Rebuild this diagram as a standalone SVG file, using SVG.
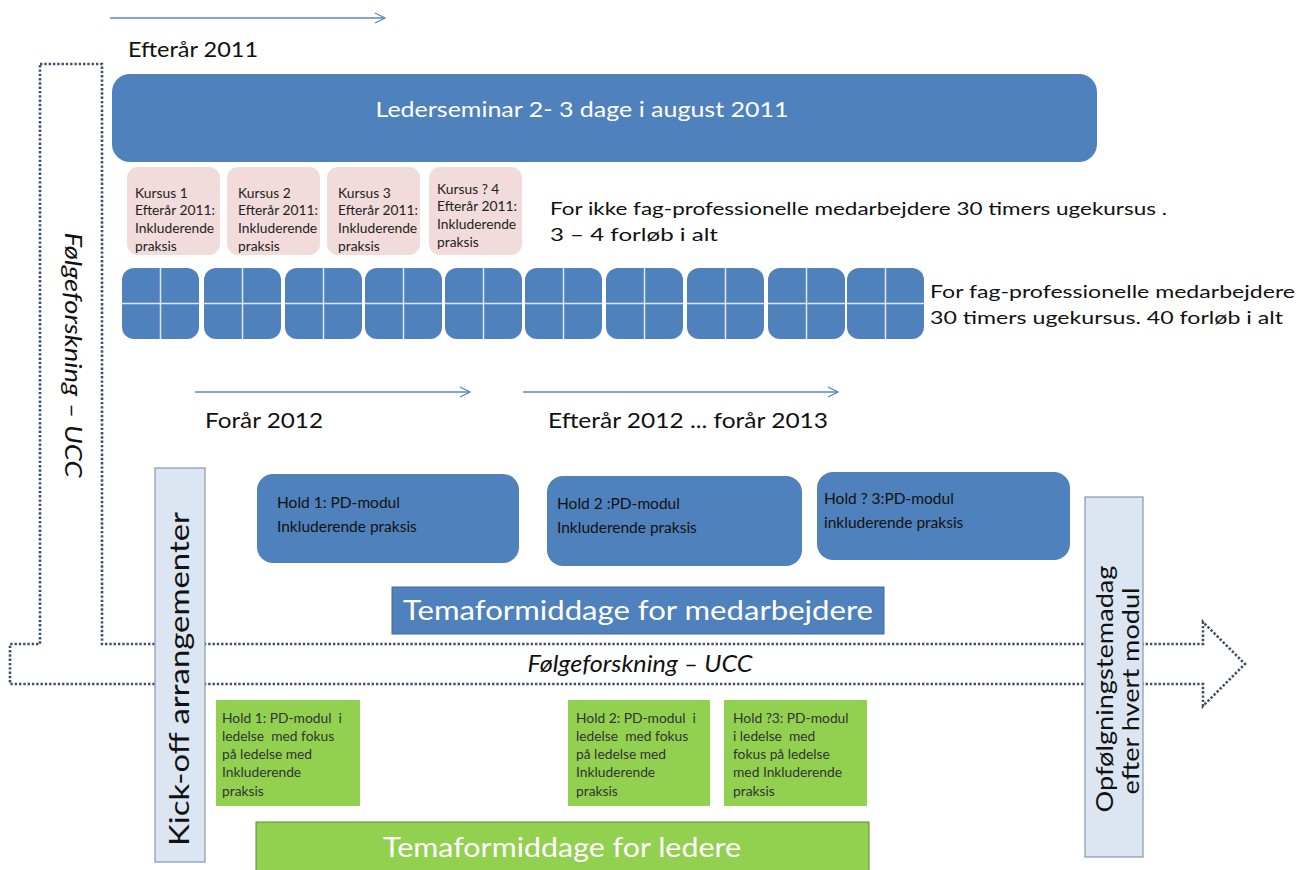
<svg xmlns="http://www.w3.org/2000/svg" width="1307" height="870" viewBox="0 0 1307 870">
<defs>
<marker id="open" viewBox="0 0 12 12" refX="11" refY="6" markerWidth="12" markerHeight="12" markerUnits="userSpaceOnUse" orient="auto">
<path d="M1,1 L11,6 L1,11" fill="none" stroke="#5b87bd" stroke-width="1.2"/>
</marker>
</defs>
<style>
text{font-family:Lato,"Liberation Sans",Arial,sans-serif;fill:#111}
.blue{fill:#4f81bd}
.pink{fill:#f2dcdb}
.green{fill:#92d050}
.bar{fill:#dce6f2;stroke:#8797b0;stroke-width:1.2}
.tl{stroke:#5b87bd;stroke-width:1.3;fill:none}
.dot{fill:none;stroke:#3e5072;stroke-width:2.6;stroke-dasharray:2.4 1.9}
.w{fill:#fff}
.sm{font-size:13.8px;fill:#222}
.gs{font-size:13.8px;fill:#333;white-space:pre}
.hb{font-size:15.5px;fill:#111}
.grid{stroke:#dfe8f3;stroke-width:1.5}
</style>

<g id="research-frame">
<path class="dot" d="M40,64 L102,64 L102,644 L1203,644 L1203,622 L1245,664 L1203,706 L1203,684 L10,684 L10,644 L40,644 Z"/>
<text x="72" y="355" font-size="23" font-style="italic" text-anchor="middle" transform="rotate(90 72 355)" dy="7" textLength="245" lengthAdjust="spacingAndGlyphs">Følgeforskning – UCC</text>
<text x="640" y="672" font-size="23" font-style="italic" text-anchor="middle" textLength="225" lengthAdjust="spacingAndGlyphs">Følgeforskning – UCC</text>
</g>

<g id="connectors">
<line class="tl" x1="110" y1="18" x2="385" y2="18" marker-end="url(#open)"/>
<line class="tl" x1="195" y1="392" x2="470" y2="392" marker-end="url(#open)"/>
<line class="tl" x1="523" y1="392" x2="838" y2="392" marker-end="url(#open)"/>
</g>

<g id="labels">
<text x="128" y="57" font-size="21" textLength="130" lengthAdjust="spacingAndGlyphs">Efterår 2011</text>
<text x="205" y="428" font-size="21" textLength="118" lengthAdjust="spacingAndGlyphs">Forår 2012</text>
<text x="548" y="428" font-size="21" textLength="280" lengthAdjust="spacingAndGlyphs">Efterår 2012 ... forår 2013</text>
<text x="550" y="215" font-size="18" textLength="617" lengthAdjust="spacingAndGlyphs">For ikke fag-professionelle medarbejdere 30 timers ugekursus .</text>
<text x="550" y="241" font-size="18" textLength="168" lengthAdjust="spacingAndGlyphs">3 – 4 forløb i alt</text>
<text x="930" y="298" font-size="18" textLength="365" lengthAdjust="spacingAndGlyphs">For fag-professionelle medarbejdere</text>
<text x="930" y="324" font-size="18" textLength="353" lengthAdjust="spacingAndGlyphs">30 timers ugekursus. 40 forløb i alt</text>
</g>

<g id="lederseminar">
<rect class="blue" x="112" y="74" width="985" height="88" rx="18"/>
<text class="w" x="582" y="117" font-size="22" text-anchor="middle" textLength="413" lengthAdjust="spacingAndGlyphs">Lederseminar 2- 3 dage i august 2011</text>
</g>

<g id="kursus1">
<rect class="pink" x="127" y="167" width="93" height="88" rx="11"/>
<text class="sm" x="135"><tspan x="135" y="198">Kursus 1</tspan><tspan x="135" y="215">Efterår 2011:</tspan><tspan x="135" y="233">Inkluderende</tspan><tspan x="135" y="251">praksis</tspan></text>
</g>
<g id="kursus2">
<rect class="pink" x="227" y="167" width="93" height="88" rx="11"/>
<text class="sm" x="238"><tspan x="238" y="198">Kursus 2</tspan><tspan x="238" y="215">Efterår 2011:</tspan><tspan x="238" y="233">Inkluderende</tspan><tspan x="238" y="251">praksis</tspan></text>
</g>
<g id="kursus3">
<rect class="pink" x="327" y="167" width="93" height="88" rx="11"/>
<text class="sm" x="338"><tspan x="338" y="198">Kursus 3</tspan><tspan x="338" y="215">Efterår 2011:</tspan><tspan x="338" y="233">Inkluderende</tspan><tspan x="338" y="251">praksis</tspan></text>
</g>
<g id="kursus4">
<rect class="pink" x="429" y="167" width="93" height="88" rx="11"/>
<text class="sm" x="437"><tspan x="437" y="194">Kursus ? 4</tspan><tspan x="437" y="211">Efterår 2011:</tspan><tspan x="437" y="229">Inkluderende</tspan><tspan x="437" y="247">praksis</tspan></text>
</g>

<g id="fag-grid">
<rect class="blue" x="122" y="268" width="77" height="71" rx="12"/>
<rect class="blue" x="204" y="268" width="77" height="71" rx="12"/>
<rect class="blue" x="285" y="268" width="77" height="71" rx="12"/>
<rect class="blue" x="365" y="268" width="77" height="71" rx="12"/>
<rect class="blue" x="445" y="268" width="77" height="71" rx="12"/>
<rect class="blue" x="525" y="268" width="77" height="71" rx="12"/>
<rect class="blue" x="606" y="268" width="77" height="71" rx="12"/>
<rect class="blue" x="687" y="268" width="77" height="71" rx="12"/>
<rect class="blue" x="768" y="268" width="77" height="71" rx="12"/>
<rect class="blue" x="847" y="268" width="77" height="71" rx="12"/>
<path class="grid" d="M122,303.5 H199 M204,303.5 H281 M285,303.5 H362 M365,303.5 H442 M445,303.5 H522 M525,303.5 H602 M606,303.5 H683 M687,303.5 H764 M768,303.5 H845 M847,303.5 H924 M160.5,268 V339 M242.5,268 V339 M323.5,268 V339 M403.5,268 V339 M483.5,268 V339 M563.5,268 V339 M644.5,268 V339 M725.5,268 V339 M806.5,268 V339 M885.5,268 V339"/>
</g>

<g id="hold1">
<rect class="blue" x="257" y="474" width="262" height="89" rx="16"/>
<text class="hb"><tspan x="277" y="508">Hold 1: PD-modul</tspan><tspan x="277" y="532">Inkluderende praksis</tspan></text>
</g>
<g id="hold2">
<rect class="blue" x="547" y="476" width="255" height="90" rx="16"/>
<text class="hb"><tspan x="557" y="509">Hold 2 :PD-modul</tspan><tspan x="557" y="533">Inkluderende praksis</tspan></text>
</g>
<g id="hold3">
<rect class="blue" x="817" y="472" width="253" height="88" rx="16"/>
<text class="hb"><tspan x="824" y="504">Hold ? 3:PD-modul</tspan><tspan x="824" y="528">inkluderende praksis</tspan></text>
</g>

<g id="tema-medarbejdere">
<rect class="blue" x="392" y="587" width="492" height="47" stroke="#3f6a9c" stroke-width="1"/>
<text class="w" x="638" y="620" font-size="27" text-anchor="middle" textLength="470" lengthAdjust="spacingAndGlyphs">Temaformiddage for medarbejdere</text>
</g>

<g id="kickoff">
<rect class="bar" x="155" y="468" width="50" height="394"/>
<text x="180" y="679" font-size="27" text-anchor="middle" transform="rotate(-90 180 679)" dy="9" textLength="334" lengthAdjust="spacingAndGlyphs">Kick-off arrangementer</text>
</g>

<g id="opfoelgning">
<rect class="bar" x="1085" y="497" width="58" height="360"/>
<text x="1105" y="689" font-size="24" text-anchor="middle" transform="rotate(-90 1105 689)" dy="8" textLength="247" lengthAdjust="spacingAndGlyphs">Opfølgningstemadag</text>
<text x="1131" y="691" font-size="24" text-anchor="middle" transform="rotate(-90 1131 691)" dy="8" textLength="207" lengthAdjust="spacingAndGlyphs">efter hvert modul</text>
</g>

<g id="leder-hold1">
<rect class="green" x="216" y="700" width="144" height="106"/>
<text class="gs"><tspan x="222" y="723">Hold 1: PD-modul  i</tspan><tspan x="222" y="741">ledelse  med fokus</tspan><tspan x="222" y="759">på ledelse med</tspan><tspan x="222" y="777">Inkluderende</tspan><tspan x="222" y="796">praksis</tspan></text>
</g>
<g id="leder-hold2">
<rect class="green" x="568" y="700" width="142" height="106"/>
<text class="gs"><tspan x="576" y="723">Hold 2: PD-modul  i</tspan><tspan x="576" y="741">ledelse  med fokus</tspan><tspan x="576" y="759">på ledelse med</tspan><tspan x="576" y="777">Inkluderende</tspan><tspan x="576" y="796">praksis</tspan></text>
</g>
<g id="leder-hold3">
<rect class="green" x="724" y="700" width="143" height="106"/>
<text class="gs"><tspan x="733" y="723">Hold ?3: PD-modul</tspan><tspan x="733" y="741">i ledelse  med</tspan><tspan x="733" y="759">fokus på ledelse</tspan><tspan x="733" y="777">med Inkluderende</tspan><tspan x="733" y="796">praksis</tspan></text>
</g>

<g id="tema-ledere">
<rect class="green" x="256" y="822" width="613" height="50" stroke="#5f8a35" stroke-width="1"/>
<text class="w" x="562" y="857" font-size="27" text-anchor="middle" textLength="358" lengthAdjust="spacingAndGlyphs">Temaformiddage for ledere</text>
</g>
</svg>
